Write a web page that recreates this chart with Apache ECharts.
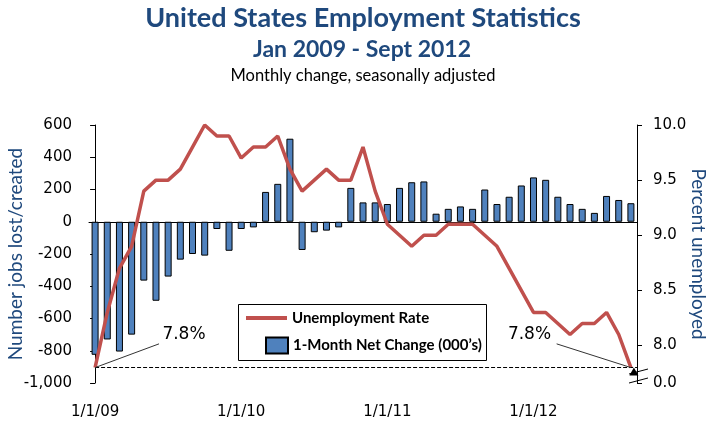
<!DOCTYPE html>
<html>
<head>
<meta charset="utf-8">
<script src="https://cdn.jsdelivr.net/npm/echarts@6/dist/echarts.min.js"></script>
<style>html,body{margin:0;padding:0;background:#fff}#c{width:714px;height:430px}</style>
</head>
<body>
<div id="c"></div>
<script>
var categories = ['1/1/09','2/1/09','3/1/09','4/1/09','5/1/09','6/1/09','7/1/09','8/1/09','9/1/09','10/1/09','11/1/09','12/1/09',
  '1/1/10','2/1/10','3/1/10','4/1/10','5/1/10','6/1/10','7/1/10','8/1/10','9/1/10','10/1/10','11/1/10','12/1/10',
  '1/1/11','2/1/11','3/1/11','4/1/11','5/1/11','6/1/11','7/1/11','8/1/11','9/1/11','10/1/11','11/1/11','12/1/11',
  '1/1/12','2/1/12','3/1/12','4/1/12','5/1/12','6/1/12','7/1/12','8/1/12','9/1/12'];
var netChange = [-825,-730,-805,-700,-365,-490,-340,-235,-200,-210,-45,-180,
  -45,-35,185,235,515,-175,-65,-55,-35,210,120,120,
  110,210,245,250,50,80,95,80,200,110,155,225,
  275,260,155,110,80,55,160,135,115];
var unemploymentRate = [7.8,8.3,8.7,8.9,9.4,9.5,9.5,9.6,9.8,10.0,9.9,9.9,
  9.7,9.8,9.8,9.9,9.6,9.4,9.5,9.6,9.5,9.5,9.8,9.4,
  9.1,9.0,8.9,9.0,9.0,9.1,9.1,9.1,9.0,8.9,8.7,8.5,
  8.3,8.3,8.2,8.1,8.2,8.2,8.3,8.1,7.8];
var leftTicks = [-1000,-800,-600,-400,-200,0,200,400,600];
var rightTicks = [7.66,8.0,8.5,9.0,9.5,10.0];
var rightTickLabels = ['0.0','8.0','8.5','9.0','9.5','10.0'];

var BLUE_TEXT = '#1F497D';
var chart = echarts.init(document.getElementById('c'), null, {renderer:'canvas'});
var tickFont = {color:'#000', fontFamily:'DejaVu Sans', fontSize:15};

var option = {
  animation: false,
  backgroundColor: '#fff',
  grid: {left:89, right:77, top:125, bottom:47, containLabel:false, outerBoundsMode:'none'},
  xAxis: [
    {type:'category', data:categories, boundaryGap:true,
     axisLine:{show:false, onZero:false}, axisTick:{show:false},
     axisLabel:Object.assign({interval:11, margin:22}, tickFont), splitLine:{show:false}},
    {type:'category', data:categories, boundaryGap:true, position:'bottom',
     axisLine:{show:true, onZero:true, onZeroAxisIndex:0, lineStyle:{color:'#000', width:1}},
     axisTick:{show:false}, axisLabel:{show:false}, splitLine:{show:false}},
    {type:'value', min:-0.5, max:44.5, show:false}
  ],
  yAxis: [
    {type:'value', min:-1000, max:600, interval:200, position:'left',
     name:'Number jobs lost/created', nameLocation:'middle', nameGap:64, nameMoveOverlap:false,
     nameTextStyle:{color:BLUE_TEXT, fontFamily:'Lato', fontSize:19},
     axisLine:{show:true, lineStyle:{color:'#000', width:1}},
     axisTick:{show:true, inside:false, length:5, lineStyle:{color:'#000'}},
     axisLabel:Object.assign({margin:17, formatter:function(v){return v.toLocaleString('en-US');}}, tickFont),
     splitLine:{show:false}},
    {type:'value', min:rightTicks[0], max:10, position:'right',
     name:'Percent unemployed', nameLocation:'middle', nameGap:52, nameRotate:-90, nameMoveOverlap:false,
     nameTextStyle:{color:BLUE_TEXT, fontFamily:'Lato', fontSize:19},
     axisLine:{show:true, lineStyle:{color:'#000', width:1}},
     axisTick:{show:true, inside:false, length:5, lineStyle:{color:'#000'}, customValues:rightTicks},
     axisLabel:Object.assign({margin:16, customValues:rightTicks, formatter:function(v){
        var i = rightTicks.indexOf(v); return i >= 0 ? rightTickLabels[i] : v.toFixed(1);}}, tickFont),
     splitLine:{show:false}}
  ],
  legend: [
    {data:['Unemployment Rate'], left:246, top:310.5, orient:'vertical', padding:0,
     itemWidth:41, itemHeight:4, icon:'rect',
     textStyle:{fontFamily:'Lato', fontWeight:'bold', fontSize:15, color:'#000'}},
    {data:['1-Month Net Change (000\u2019s)'], left:265, top:336.5, orient:'vertical', padding:0,
     itemWidth:22, itemHeight:16, icon:'rect',
     textStyle:{fontFamily:'Lato', fontWeight:'bold', fontSize:15, color:'#000'}}
  ],
  series: [
    {name:'1-Month Net Change (000\u2019s)', type:'bar', xAxisIndex:0, yAxisIndex:0, data:netChange,
     barWidth:7, itemStyle:{color:'#4F81BD', borderColor:'#000', borderWidth:1}, z:2},
    {name:'Unemployment Rate', type:'line', xAxisIndex:0, yAxisIndex:1, data:unemploymentRate,
     symbol:'none', lineStyle:{color:'#C0504D', width:3.5}, itemStyle:{color:'#C0504D'}, z:4},
    {name:'annotations', type:'scatter', xAxisIndex:2, yAxisIndex:1, data:[[44, 7.8]], symbolSize:0, z:5,
     silent:true,
     markLine:{silent:true, symbol:['none','none'], label:{show:false},
       lineStyle:{color:'#000', width:1, type:'solid'},
       data:[
         [{coord:[0,7.8], lineStyle:{type:'dashed', color:'#000', width:1}}, {coord:[44.5,7.8]}],
         [{coord:[0,7.8], lineStyle:{color:'#333', width:1}}, {coord:[5.25,8.015]}],
         [{coord:[37.9,8.015], lineStyle:{color:'#333', width:1}}, {coord:[44,7.8]}]
       ]},
     markPoint:{silent:true,
       data:[
         {coord:[7.3,8.1], symbol:'rect', symbolSize:0, label:{show:true, position:'inside', formatter:'7.8%', color:'#000', fontFamily:'DejaVu Sans', fontSize:17}},
         {coord:[35.67,8.095], symbol:'rect', symbolSize:0, label:{show:true, position:'inside', formatter:'7.8%', color:'#000', fontFamily:'DejaVu Sans', fontSize:17}},
         {coord:[44,7.8], symbol:'triangle', symbolSize:[9,8], symbolOffset:[3,4], itemStyle:{color:'#000'}, label:{show:false}}
       ]}
    }
  ],
  graphic: [
    {type:'text', x:363, y:18, style:{text:'United States Employment Statistics', align:'center', verticalAlign:'middle', font:'bold 27px Lato', fill:BLUE_TEXT}},
    {type:'text', x:362, y:50, style:{text:'Jan 2009 - Sept 2012', align:'center', verticalAlign:'middle', font:'bold 23px Lato', fill:BLUE_TEXT}},
    {type:'text', x:363, y:76, style:{text:'Monthly change, seasonally adjusted', align:'center', verticalAlign:'middle', font:'16.5px Lato', fill:'#000'}},
    {type:'rect', shape:{x:238.5, y:304.5, width:248, height:56}, style:{fill:'#fff', stroke:'#000', lineWidth:1}, z:1},
    {type:'line', shape:{x1:629, y1:374, x2:648, y2:369}, style:{stroke:'#000', lineWidth:1}, z:10},
    {type:'line', shape:{x1:629, y1:383, x2:648, y2:378}, style:{stroke:'#000', lineWidth:1}, z:10}
  ]
};
chart.setOption(option);
</script>
</body>
</html>
